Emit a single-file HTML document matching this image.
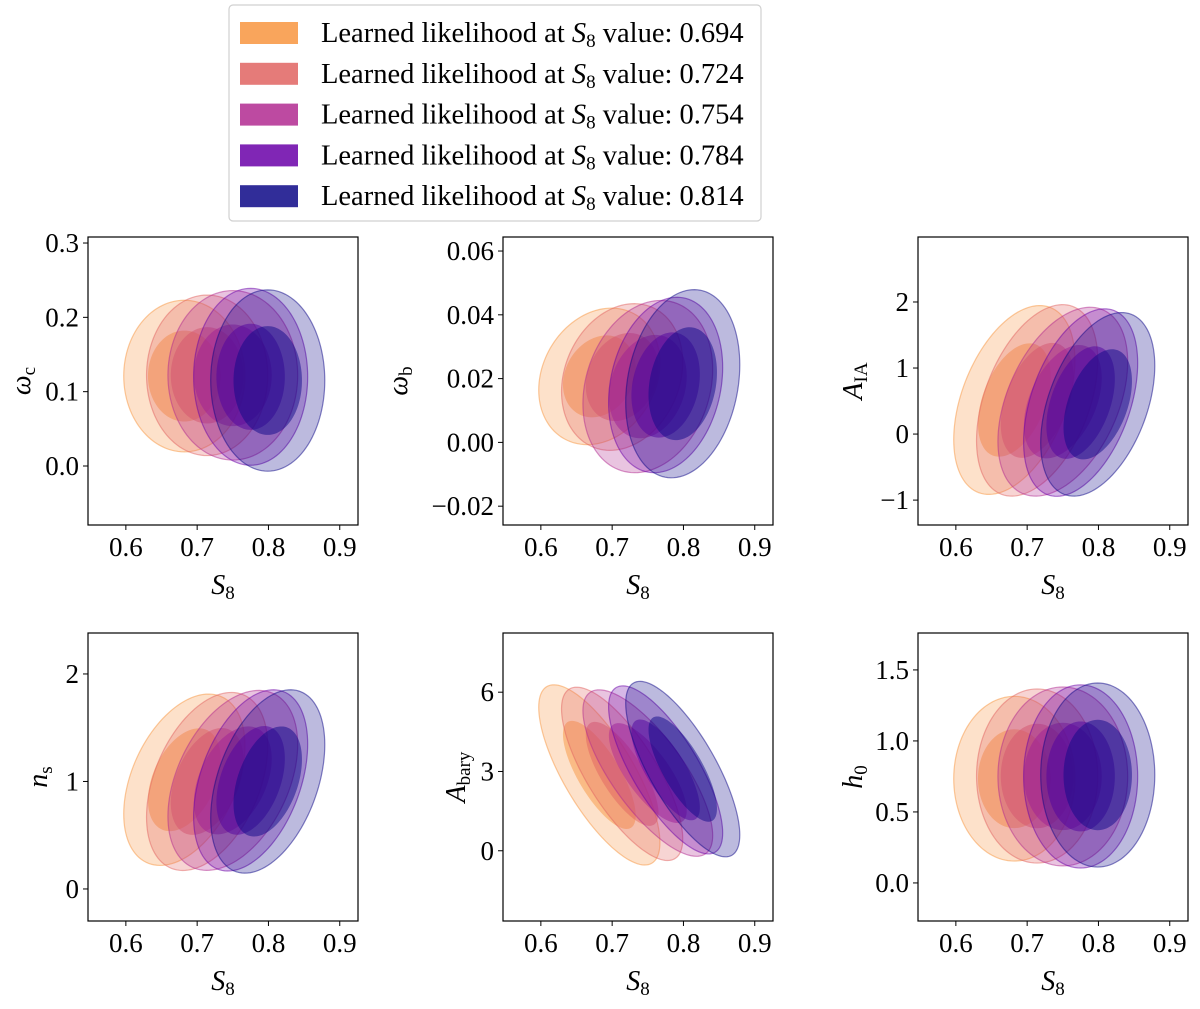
<!DOCTYPE html>
<html><head><meta charset="utf-8">
<style>
body{margin:0;background:#fff;}
svg{display:block;font-family:"Liberation Serif","DejaVu Serif",serif;}
</style></head>
<body>
<svg id="fig" width="1200" height="1009" viewBox="0 0 1200 1009" xmlns="http://www.w3.org/2000/svg"></svg>
<script>
// ---- data ----
const s8Values = [0.694, 0.724, 0.754, 0.784, 0.814];
const colors = ['#f89540', '#e16462', '#b12a90', '#6a00a8', '#0d0887'];
const xCenter = [0.682, 0.714, 0.750, 0.775, 0.799];
const xSpread = [0.085, 0.085, 0.091, 0.080, 0.080];
const innerScale = 0.6;

const wcCenter = [0.121, 0.122, 0.122, 0.120, 0.115];
const wcSpread = [0.102, 0.108, 0.114, 0.119, 0.122];
const wbCenter = [0.0207, 0.0205, 0.0175, 0.018, 0.0184];
const wbSpread = [0.0214, 0.0230, 0.0270, 0.0275, 0.0295];
const aiaCenter = [0.516, 0.51, 0.49, 0.477, 0.45];
const aiaSpread = [1.43, 1.45, 1.43, 1.42, 1.39];
const nsCenter = [1.016, 1.0, 1.01, 1.01, 1.0];
const nsSpread = [0.797, 0.828, 0.837, 0.843, 0.853];
const abCenter = [2.87, 2.91, 2.94, 3.06, 3.09];
const abSpread = [3.41, 3.28, 3.15, 3.18, 3.32];
const h0Center = [0.734, 0.753, 0.75, 0.75, 0.76];
const h0Spread = [0.58, 0.613, 0.63, 0.645, 0.648];

const xTicks = [0.6, 0.7, 0.8, 0.9];
const wcTicks = ['0.0', '0.1', '0.2', '0.3'];
const wbTicks = ['−0.02', '0.00', '0.02', '0.04', '0.06'];
const aiaTicks = ['−1', '0', '1', '2'];
const nsTicks = ['0', '1', '2'];
const abTicks = ['0', '3', '6'];
const h0Ticks = ['0.0', '0.5', '1.0', '1.5'];

const NS = 'http://www.w3.org/2000/svg';
const svg = document.getElementById('fig');
function mk(tag, attrs, parent) {
  const e = document.createElementNS(NS, tag);
  for (const k in attrs) e.setAttribute(k, attrs[k]);
  (parent || svg).appendChild(e);
  return e;
}
function num(s) { return parseFloat(s.replace('−', '-')); }

const panels = [
  {key:'omega-c', x0:88, y0:237, yMin:-0.0794, yMax:0.3081, c:wcCenter, s:wcSpread, rho:0.0, ticks:wcTicks, lab:['ω','c'], labX:30, labY:381},
  {key:'omega-b', x0:503, y0:237, yMin:-0.0259, yMax:0.0644, c:wbCenter, s:wbSpread, rho:0.2, ticks:wbTicks, lab:['ω','b'], labX:407, labY:381},
  {key:'a-ia', x0:918, y0:237, yMin:-1.377, yMax:2.984, c:aiaCenter, s:aiaSpread, rho:0.42, ticks:aiaTicks, lab:['A','IA'], labX:862, labY:381},
  {key:'n-s', x0:88, y0:633, yMin:-0.298, yMax:2.381, c:nsCenter, s:nsSpread, rho:0.4, ticks:nsTicks, lab:['n','s'], labX:47, labY:777},
  {key:'a-bary', x0:503, y0:633, yMin:-2.658, yMax:8.24, c:abCenter, s:abSpread, rho:-0.75, ticks:abTicks, lab:['A','bary'], labX:465, labY:777},
  {key:'h-0', x0:918, y0:633, yMin:-0.268, yMax:1.760, c:h0Center, s:h0Spread, rho:0.0, ticks:h0Ticks, lab:['h','0'], labX:862, labY:777}
];
const W = 270, H = 288, xMin = 0.5469, xMax = 0.9256;

panels.forEach(p => {
  const g = mk('g', {});
  
  
  const sx = v => p.x0 + (v - xMin) / (xMax - xMin) * W;
  const sy = v => p.y0 + H - (v - p.yMin) / (p.yMax - p.yMin) * H;
  const clipId = 'clip-' + p.key;
  const cp = mk('clipPath', {id: clipId}, g);
  mk('rect', {x:p.x0, y:p.y0, width:W, height:H}, cp);
  const cg = mk('g', {'clip-path':'url(#' + clipId + ')'}, g);
  const r2 = Math.sqrt(1 - p.rho * p.rho);
  function path(i, k) {
    let d = '';
    for (let j = 0; j <= 120; j++) {
      const t = j / 120 * 2 * Math.PI;
      const x = xCenter[i] + k * xSpread[i] * Math.cos(t);
      const y = p.c[i] + k * p.s[i] * (p.rho * Math.cos(t) + r2 * Math.sin(t));
      d += (j ? 'L' : 'M') + sx(x).toFixed(2) + ' ' + sy(y).toFixed(2);
    }
    return d + 'Z';
  }
  s8Values.forEach((v, i) => {
    const o = mk('path', {d:path(i, 1), fill:colors[i], 'fill-opacity':0.28, stroke:colors[i], 'stroke-opacity':0.5, 'stroke-width':1.2}, cg);
    
    
    const inn = mk('path', {d:path(i, innerScale), fill:colors[i], 'fill-opacity':0.5}, cg);
    
    
  });
  const fr = mk('rect', {x:p.x0, y:p.y0, width:W, height:H, fill:'none', stroke:'#000', 'stroke-width':1.2}, g);
  
  
  xTicks.forEach(t => {
    const x = sx(t);
    mk('line', {x1:x, x2:x, y1:p.y0 + H, y2:p.y0 + H + 5, stroke:'#000', 'stroke-width':1}, g);
    const tx = mk('text', {x:x, y:p.y0 + H + 31, 'text-anchor':'middle', 'font-size':27}, g);
    tx.textContent = t.toFixed(1);
    
    
  });
  p.ticks.forEach(t => {
    const y = sy(num(t));
    mk('line', {x1:p.x0 - 5, x2:p.x0, y1:y, y2:y, stroke:'#000', 'stroke-width':1}, g);
    const ty = mk('text', {x:p.x0 - 9, y:y + 9, 'text-anchor':'end', 'font-size':27}, g);
    ty.textContent = t;
    
    
  });
  const xl = mk('text', {x:p.x0 + 135, y:p.y0 + H + 69, 'text-anchor':'middle', 'font-size':28}, g);
  
  
  const a = mk('tspan', {'font-style':'italic'}, xl); a.textContent = 'S';
  const b = mk('tspan', {'font-size':19, dy:5}, xl); b.textContent = '8';
  const yl = mk('text', {x:p.labX, y:p.labY, 'text-anchor':'middle', 'font-size':28, transform:'rotate(-90 ' + p.labX + ' ' + p.labY + ')'}, g);
  
  
  const c1 = mk('tspan', {'font-style':'italic'}, yl); c1.textContent = p.lab[0];
  const c2 = mk('tspan', {'font-size':19, dy:5}, yl); c2.textContent = p.lab[1];
});

// legend
const lg = mk('g', {});


mk('rect', {x:229, y:5, width:532, height:216, rx:4, fill:'#fff', stroke:'#d0d0d0', 'stroke-width':1.2}, lg);
s8Values.forEach((v, i) => {
  const y = 33 + i * 40.8;
  const e = mk('g', {}, lg);
  
  
  mk('rect', {x:240, y:y - 11, width:58, height:22, fill:colors[i], 'fill-opacity':0.85}, e);
  const t = mk('text', {x:321, y:y + 9, 'font-size':28.5}, e);
  const t1 = mk('tspan', {}, t); t1.textContent = 'Learned likelihood at ';
  const t2 = mk('tspan', {'font-style':'italic'}, t); t2.textContent = 'S';
  const t3 = mk('tspan', {'font-size':19, dy:5}, t); t3.textContent = '8';
  const t4 = mk('tspan', {dy:-5}, t); t4.textContent = ' value: ' + v.toFixed(3);
});
</script>
</body></html>
